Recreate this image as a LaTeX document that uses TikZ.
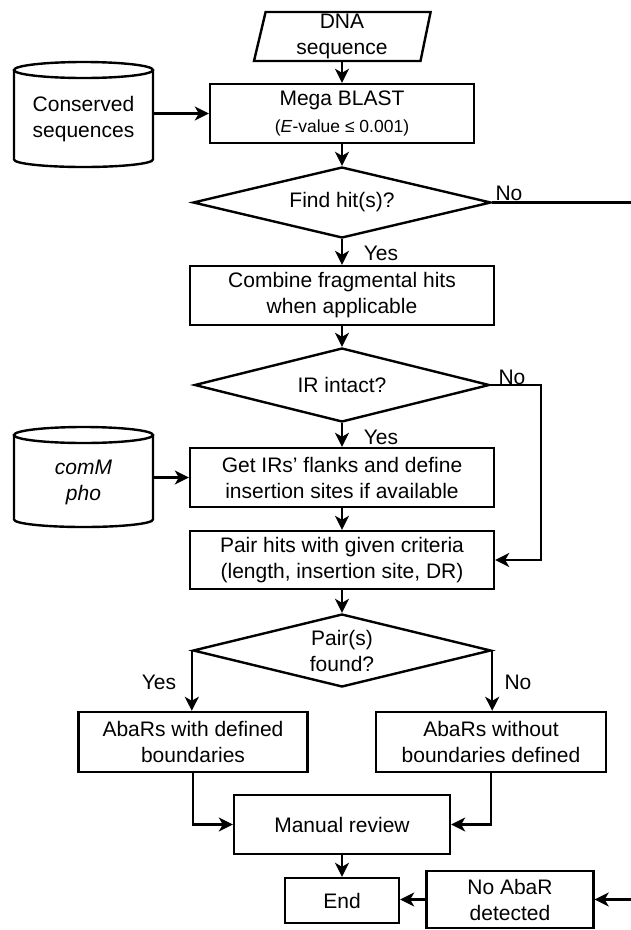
\documentclass[tikz,border=0pt]{standalone}
\usepackage{fontspec}
\setmainfont{Liberation Sans}
\usetikzlibrary{shapes.geometric,arrows.meta}
\newcommand\mainsz{\fontsize{21}{26}\selectfont}
\newcommand\smallsz{\fontsize{17.5}{21}\selectfont}
\tikzset{
  lw/.style={line width=2.4pt},
  box/.style={draw, lw, align=center, inner sep=0pt, font=\mainsz},
  dia/.style={draw, diamond, lw, align=center, inner sep=0pt, font=\mainsz},
  txt/.style={align=center, inner sep=0pt, font=\mainsz},
  lbl/.style={inner sep=0pt, font=\mainsz},
  arr/.style={lw, -{Stealth[length=14pt,width=14pt,inset=4pt]}},
  cyl/.style={lw},
}
\begin{document}
\begin{tikzpicture}[x=1pt,y=-1pt]
\fill[white] (0,0) rectangle (631,930);
\useasboundingbox (0,0) rectangle (631,930);

% DNA sequence (parallelogram)
\draw[lw] (265.6,12) -- (430.6,12) -- (420.5,61) -- (254,61) -- cycle;
\node[txt, minimum height=49pt] (dna) at (342,36.5) {DNA\\sequence};

% Conserved sequences cylinder
\draw[cyl] (14,70) -- (14,159.5) arc[start angle=180,end angle=360,x radius=69.5pt,y radius=7.5pt] -- (153,70);
\draw[cyl] (83.5,70) ellipse[x radius=69.5pt,y radius=8pt];
\node[txt, minimum width=139pt] (cons) at (83.5,119) {Conserved\\sequences};

% comM pho cylinder
\draw[cyl] (14,435) -- (14,519.5) arc[start angle=180,end angle=360,x radius=69.5pt,y radius=7.5pt] -- (153,435);
\draw[cyl] (83.5,435) ellipse[x radius=69.5pt,y radius=8pt];
\node[txt, minimum width=139pt] (comm) at (83.5,482) {\textit{comM}\\\textit{pho}};

% main nodes
\node[box, minimum width=264pt, minimum height=59pt] (mega) at (342,113.5)
  {Mega BLAST\\[1pt]{\smallsz(\textit{E}-value ≤ 0.001)}};
\node[dia, aspect=4.2, minimum width=298pt, minimum height=71pt] (find) at (342,202.5) {Find hit(s)?};
\node[box, minimum width=304pt, minimum height=59pt] (combine) at (342,295.5) {Combine fragmental hits\\when applicable};
\node[dia, aspect=4.0, minimum width=295pt, minimum height=74pt] (ir) at (342,385) {IR intact?};
\node[box, minimum width=304pt, minimum height=59pt] (getir) at (342,477.5) {Get IRs’ flanks and define\\insertion sites if available};
\node[box, minimum width=304pt, minimum height=58pt] (pair) at (342,560) {Pair hits with given criteria\\(length, insertion site, DR)};
\node[dia, aspect=4.1, minimum width=298pt, minimum height=73pt] (found) at (342,650.5) {Pair(s)\\found?};
\node[box, minimum width=229pt, minimum height=60pt] (with) at (193,742) {AbaRs with defined\\boundaries};
\node[box, minimum width=230pt, minimum height=60pt] (without) at (491,742) {AbaRs without\\boundaries defined};
\node[box, minimum width=216pt, minimum height=59pt] (manual) at (342,824.5) {Manual review};
\node[box, minimum width=114pt, minimum height=45pt] (endn) at (342,900.5) {End};
\node[box, minimum width=167pt, minimum height=57pt] (noabar) at (510,899.5) {No AbaR\\detected};

% free ends
\coordinate (edgeA) at (632,202.5);
\coordinate (irc) at (541,385);
\coordinate (edgeB) at (632,899.5);

% connectors
\draw[arr] (dna.south) -- (mega.north);
\draw[arr] (cons.east |- mega.west) -- (mega.west);
\draw[arr] (mega.south) -- (find.north);
\draw[lw] (find.east) -- (edgeA);
\draw[arr] (find.south) -- (combine.north);
\draw[arr] (combine.south) -- (ir.north);
\draw[arr] (ir.east) -- (irc) |- (pair.east);
\draw[arr] (ir.south) -- (getir.north);
\draw[arr] (comm.east |- getir.west) -- (getir.west);
\draw[arr] (getir.south) -- (pair.north);
\draw[arr] (pair.south) -- (found.north);
\draw[arr] (found.west) -- (found.west |- with.north);
\draw[arr] (found.east) -- (found.east |- without.north);
\draw[arr] (with.south) |- (manual.west);
\draw[arr] (without.south) |- (manual.east);
\draw[arr] (manual.south) -- (endn.north);
\draw[arr] (noabar.west) -- (noabar.west -| endn.east);
\draw[arr] (edgeB) -- (noabar.east);

% labels
\node[lbl] (l1) at (509,193) {No};
\node[lbl] (l2) at (381,253) {Yes};
\node[lbl] (l3) at (512,377) {No};
\node[lbl] (l4) at (381,437) {Yes};
\node[lbl] (l5) at (159,682) {Yes};
\node[lbl] (l6) at (518,682) {No};
\end{tikzpicture}
\end{document}
